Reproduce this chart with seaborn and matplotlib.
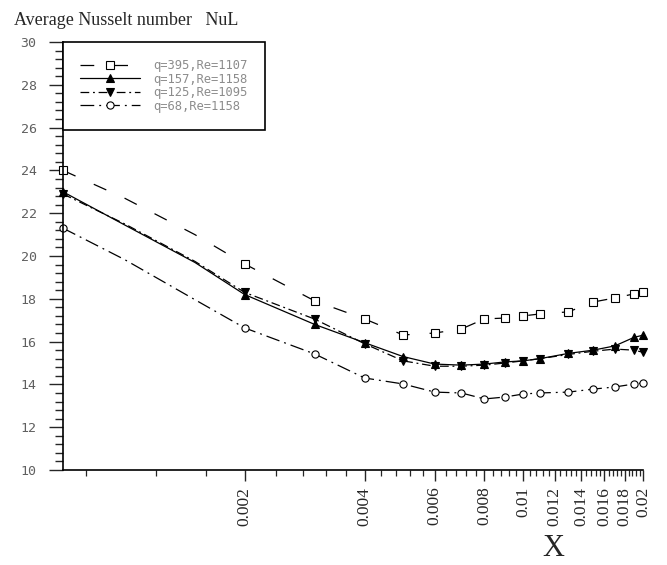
import numpy as np
import pandas as pd
import matplotlib
matplotlib.use("Agg")
import matplotlib.pyplot as plt
import seaborn as sns
from matplotlib.ticker import FixedLocator, FixedFormatter, MultipleLocator, NullFormatter

# ---- data ----
x_vals = [0.0007, 0.001, 0.0015, 0.002, 0.003, 0.004, 0.005, 0.006, 0.007, 0.008,
          0.009, 0.010, 0.011, 0.013, 0.015, 0.017, 0.019, 0.020]
nu_395 = [24.0, 22.7, 21.0, 19.63, 17.9, 17.06, 16.31, 16.40, 16.59, 17.06,
          17.1, 17.2, 17.29, 17.39, 17.85, 18.04, 18.23, 18.32]
nu_157 = [23.0, 21.45, 19.7, 18.2, 16.8, 15.95, 15.3, 14.95, 14.9, 14.95,
          15.05, 15.1, 15.2, 15.45, 15.6, 15.8, 16.2, 16.3]
nu_125 = [22.9, 21.5, 19.75, 18.3, 17.05, 15.9, 15.1, 14.85, 14.85, 14.9,
          15.0, 15.1, 15.2, 15.4, 15.55, 15.65, 15.6, 15.5]
nu_68 = [21.3, 19.83, 17.96, 16.64, 15.42, 14.3, 14.02, 13.64, 13.6, 13.32,
         13.41, 13.55, 13.6, 13.64, 13.78, 13.88, 14.02, 14.07]
labels = ["q=395,Re=1107", "q=157,Re=1158", "q=125,Re=1095", "q=68,Re=1158"]
x_major = [0.002, 0.004, 0.006, 0.008, 0.01, 0.012, 0.014, 0.016, 0.018, 0.02]
x_major_labels = ["0.002", "0.004", "0.006", "0.008", "0.01", "0.012", "0.014",
                  "0.016", "0.018", "0.02"]
y_major = [10, 12, 14, 16, 18, 20, 22, 24, 26, 28, 30]

sns.set_style("ticks")
plt.rcParams["font.family"] = ["DejaVu Sans"]

fig = plt.figure(figsize=(6.67, 5.65), dpi=100)
W, H = 667, 565
ax = fig.add_axes([63 / W, 1 - 470 / H, (643 - 63) / W, (470 - 42) / H])

mark_idx = [i for i in range(len(x_vals)) if i not in (1, 2)]
styles = [
    dict(linestyle=(0, (11, 16)), marker="s", markersize=5.2, markerfacecolor="white"),
    dict(linestyle="-", marker="^", markersize=5.8, markerfacecolor="black"),
    dict(linestyle=(0, (7, 3, 1.5, 3)), marker="v", markersize=5.8, markerfacecolor="black"),
    dict(linestyle=(0, (11, 4, 1.5, 4)), marker="o", markersize=5.2, markerfacecolor="white"),
]
for lab, vals, st in zip(labels, [nu_395, nu_157, nu_125, nu_68], styles):
    df = pd.DataFrame({"X": x_vals, "NuL": vals})
    sns.lineplot(data=df, x="X", y="NuL", ax=ax, color="black", linewidth=0.9,
                 estimator=None, sort=False, label=lab, markevery=mark_idx,
                 markeredgecolor="black", markeredgewidth=0.8, clip_on=False, **st)

ax.set_xscale("log")
ax.set_xlim(0.0007, 0.02)
ax.set_ylim(10, 30)

ax.xaxis.set_major_locator(FixedLocator(x_major))
ax.xaxis.set_major_formatter(FixedFormatter(x_major_labels))
minor = [m for m in np.arange(0.0008, 0.02005, 0.0004)
         if min(abs(m - t) for t in x_major) > 1e-6]
ax.xaxis.set_minor_locator(FixedLocator(minor))
ax.xaxis.set_minor_formatter(NullFormatter())
ax.yaxis.set_major_locator(FixedLocator(y_major))
ax.yaxis.set_major_formatter(FixedFormatter([str(v) for v in y_major]))
ax.yaxis.set_minor_locator(MultipleLocator(0.4))

ax.tick_params(axis="y", which="major", length=10, width=1.0, pad=9,
               labelsize=9.5, labelcolor="#606060", direction="out")
ax.tick_params(axis="y", which="minor", length=6, width=1.0, direction="out")
ax.tick_params(axis="x", which="major", length=8, width=1.0, pad=4,
               labelsize=12.5, labelrotation=90, direction="out")
ax.tick_params(axis="x", which="minor", length=4, width=0.9, direction="out")
for t in ax.get_yticklabels():
    t.set_fontfamily("DejaVu Sans Mono")
for t in ax.get_xticklabels():
    t.set_fontfamily("Liberation Serif")

for s in ["top", "right"]:
    ax.spines[s].set_visible(False)
for s in ["left", "bottom"]:
    ax.spines[s].set_linewidth(1.2)
    ax.spines[s].set_color("black")

ax.set_xlabel("")
ax.set_ylabel("")

leg = ax.legend(loc="upper left", bbox_to_anchor=(0, 1), borderaxespad=0,
                prop={"family": "DejaVu Sans Mono", "size": 8.7},
                handlelength=5, handletextpad=1.1, labelspacing=0.05,
                borderpad=1.4, frameon=True, fancybox=False, numpoints=1)
leg.get_frame().set_edgecolor("black")
leg.get_frame().set_linewidth(1.2)
leg.get_frame().set_alpha(1)
for t in leg.get_texts():
    t.set_color("#8c8c8c")

fig.text(14 / W, 1 - 25 / H, "Average Nusselt number   NuL", family="Liberation Serif",
         size=13, ha="left", va="baseline")
fig.text(553 / W, 1 - 548 / H, "X", family="Liberation Serif", size=22,
         ha="center", va="center")

fig.savefig("out.png", dpi=100)
